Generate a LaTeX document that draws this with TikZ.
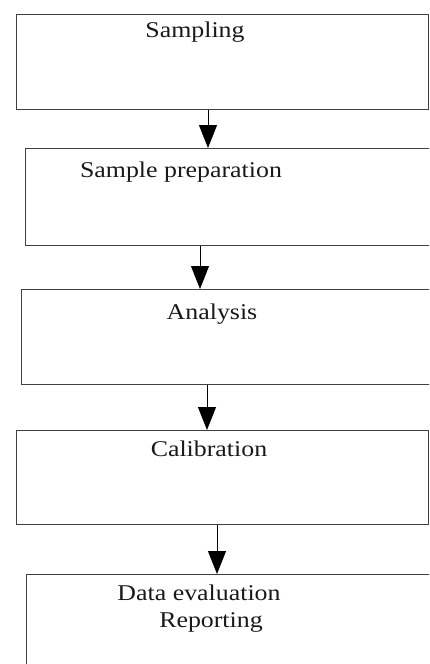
\documentclass[tikz,border=0pt]{standalone}
\usepackage{fontspec}
\setmainfont{Liberation Serif}[FakeStretch=1.15]
\usepackage{tikz}
\usetikzlibrary{arrows.meta}

\begin{document}
\begin{tikzpicture}[x=1pt,y=-1pt,
  stagebox/.style={draw=black!75,line width=1.3pt,anchor=north west,inner sep=0pt},
  stagetext/.style={anchor=base,font=\fontsize{22.5}{27}\selectfont,text=black!90},
  flow/.style={-{Triangle[length=23pt,width=18pt]},line width=1pt,black}]
\useasboundingbox (0,0) rectangle (429,664);
\clip (0,0) rectangle (429,664);
\node[stagebox,minimum width=412pt,minimum height=95pt] (samp) at (16,14) {};
\node[stagebox,minimum width=430pt,minimum height=97pt] (prep) at (25,148) {};
\node[stagebox,minimum width=430pt,minimum height=95pt] (anal) at (21,289) {};
\node[stagebox,minimum width=412pt,minimum height=94pt] (calib) at (16,430) {};
\node[stagebox,minimum width=430pt,minimum height=120pt] (report) at (26,574) {};
\node[stagetext] (sampt) at (195,37) {Sampling};
\node[stagetext] (prept) at (181,177) {Sample preparation};
\node[stagetext] (analt) at (212,319) {Analysis};
\node[stagetext] (calibt) at (209,456) {Calibration};
\node[stagetext] (datat) at (199,600) {Data evaluation};
\node[stagetext] (reportt) at (211,627) {Reporting};
\draw[flow] (samp.south -| 208,0) -- (prep.north -| 208,0);
\draw[flow] (prep.south -| 200,0) -- (anal.north -| 200,0);
\draw[flow] (anal.south -| 207,0) -- (calib.north -| 207,0);
\draw[flow] (calib.south -| 217,0) -- (report.north -| 217,0);
\end{tikzpicture}
\end{document}
